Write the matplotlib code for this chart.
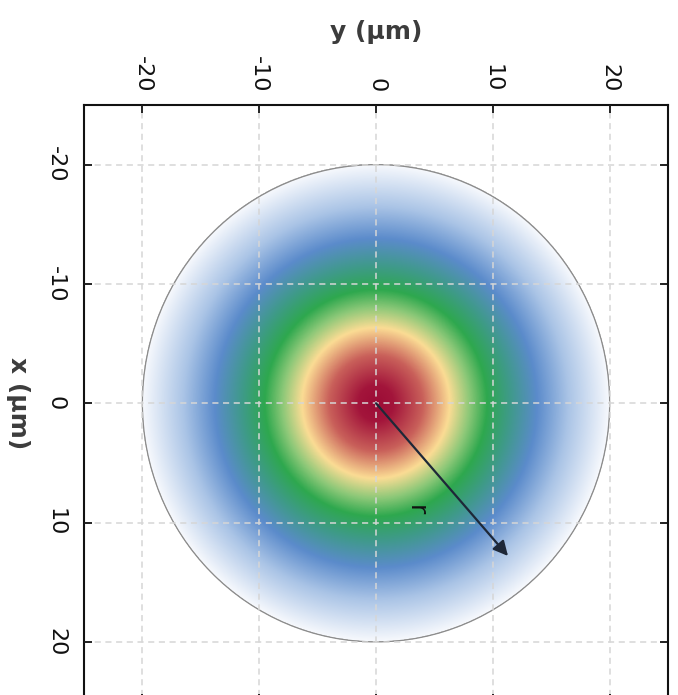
"""
Gaussian beam cross-section (rotated view) - recreation
"""

import numpy as np
import matplotlib.pyplot as plt
from matplotlib.colors import LinearSegmentedColormap
from matplotlib.patches import Circle

# ===================== data =====================
TICKS = [-20, -10, 0, 10, 20]
TICK_LABELS = ["-20", "-10", "0", "10", "20"]
AXIS_LIMIT = 25
BEAM_RADIUS = 20

# radial colour stops (radius in um -> colour)
STOP_RADII = [0, 1.5, 4.0, 6.3, 8.0, 9.5, 11.5, 13.8, 16.5, 20]
STOP_COLORS = ["#9c0c36", "#a3153b", "#c9605a", "#fbdc94", "#8cc878",
               "#2ea84e", "#3f9a8a", "#5b8bcb", "#aac4e6", "#f7f9fd"]

# arrow end (y, x) and label position
ARROW_END = (11.3, 12.8)
R_LABEL_POS = (3.4, 9.0)

# ===================== figure =====================
fig = plt.figure(figsize=(6.78, 6.95), dpi=100)
ax = fig.add_axes([0.1239, -0.0094, 0.8614, 0.8583])

cmap = LinearSegmentedColormap.from_list(
    "beam", list(zip([r / BEAM_RADIUS for r in STOP_RADII], STOP_COLORS)))

grid = np.linspace(-BEAM_RADIUS, BEAM_RADIUS, 801)
gy, gx = np.meshgrid(grid, grid)
rr = np.hypot(gx, gy)
rr = np.ma.masked_where(rr > BEAM_RADIUS, rr)
ax.imshow(rr, cmap=cmap, vmin=0, vmax=BEAM_RADIUS, origin="upper",
          extent=[-BEAM_RADIUS, BEAM_RADIUS, BEAM_RADIUS, -BEAM_RADIUS],
          interpolation="bilinear", zorder=0)

ax.add_patch(Circle((0, 0), BEAM_RADIUS, fill=False, edgecolor="#8c8c8c",
                    lw=0.9, zorder=1))

ax.set_xlim(-AXIS_LIMIT, AXIS_LIMIT)
ax.set_ylim(AXIS_LIMIT, -AXIS_LIMIT)
ax.set_aspect("auto")

# grid on top of the image
ax.set_axisbelow(False)
ax.grid(True, color="#d6d6d6", linestyle=(0, (4, 3)), lw=1.1)

# ticks: top and left labels, rotated like the picture
ax.xaxis.tick_top()
ax.set_xticks(TICKS)
ax.set_xticklabels(TICK_LABELS, rotation=-90, fontsize=16, color="#111111")
ax.set_yticks(TICKS)
ax.set_yticklabels(TICK_LABELS, rotation=-90, fontsize=16, color="#111111",
                   va="center")
ax.tick_params(axis="both", direction="in", length=6, width=1.2,
               top=True, bottom=True, left=True, right=True)
ax.tick_params(axis="x", pad=9)
ax.tick_params(axis="y", pad=13)

for s in ax.spines.values():
    s.set_linewidth(1.5)
    s.set_color("#111111")

ax.set_xlabel("y (μm)", fontsize=18, fontweight="bold", color="#3c3c3c",
              labelpad=12)
ax.xaxis.set_label_position("top")
ax.set_ylabel("x (μm)", fontsize=18, fontweight="bold", color="#3c3c3c",
              rotation=-90, labelpad=20, va="center")

# radius arrow
ax.annotate("", xy=ARROW_END, xytext=(0, 0),
            arrowprops=dict(arrowstyle="-|>", color="#1e2838", lw=1.6,
                            mutation_scale=22, shrinkA=0, shrinkB=0),
            zorder=5)
ax.text(R_LABEL_POS[0], R_LABEL_POS[1], "r", fontsize=18, rotation=-90,
        ha="center", va="center", color="#111111", zorder=5)

fig.savefig("out.png", dpi=100)
